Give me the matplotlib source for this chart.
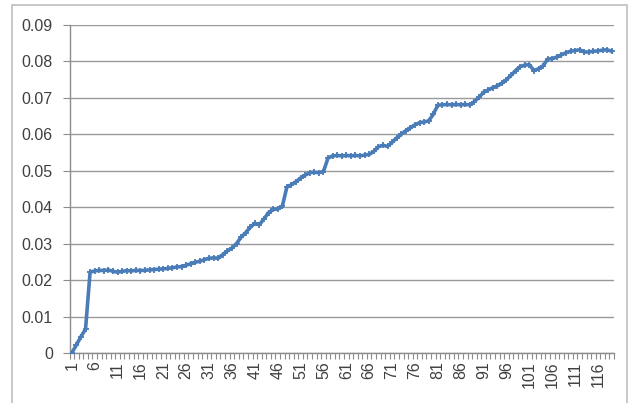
import matplotlib.pyplot as plt
import matplotlib.patches as patches
import numpy as np

plt.rcParams['font.family'] = ['Liberation Sans', 'DejaVu Sans']

# series values, one per sample (1..119)
values = [
    0.0000, 0.0022, 0.0045, 0.0065, 0.0222, 0.0225, 0.0227, 0.0226, 0.0228, 0.0224,
    0.0222, 0.0224, 0.0226, 0.0225, 0.0227, 0.0226, 0.0227, 0.0228, 0.0229, 0.0230,
    0.0231, 0.0232, 0.0234, 0.0236, 0.0237, 0.0241, 0.0245, 0.0249, 0.0252, 0.0256,
    0.0260, 0.0261, 0.0260, 0.0270, 0.0280, 0.0288, 0.0300, 0.0318, 0.0330, 0.0345,
    0.0356, 0.0352, 0.0368, 0.0385, 0.0394, 0.0395, 0.0402, 0.0455, 0.0462, 0.0470,
    0.0480, 0.0488, 0.0495, 0.0496, 0.0495, 0.0498, 0.0535, 0.0541, 0.0542, 0.0541,
    0.0542, 0.0541, 0.0542, 0.0541, 0.0543, 0.0545, 0.0553, 0.0566, 0.0570, 0.0567,
    0.0578, 0.0590, 0.0600, 0.0610, 0.0618, 0.0626, 0.0632, 0.0634, 0.0637, 0.0655,
    0.0680, 0.0681, 0.0682, 0.0681, 0.0682, 0.0681, 0.0682, 0.0681, 0.0690, 0.0702,
    0.0715, 0.0722, 0.0728, 0.0733, 0.0740, 0.0750, 0.0762, 0.0775, 0.0786, 0.0790,
    0.0791, 0.0775, 0.0780, 0.0788, 0.0806, 0.0808, 0.0812, 0.0818, 0.0824, 0.0828,
    0.0830, 0.0832, 0.0826, 0.0826, 0.0828, 0.0829, 0.0831, 0.0832, 0.0828,
]
samples = np.arange(1, len(values) + 1)
x_tick_labels = [str(s) for s in samples[::5]]
y_ticks = [0, 0.01, 0.02, 0.03, 0.04, 0.05, 0.06, 0.07, 0.08, 0.09]
y_tick_labels = ['0', '0.01', '0.02', '0.03', '0.04', '0.05', '0.06', '0.07', '0.08', '0.09']

W, H = 631, 403
fig = plt.figure(figsize=(W / 100, H / 100), dpi=100)
fig.patch.set_facecolor('white')

# chart area border
fig.patches.append(patches.Rectangle((12 / W, -0.05), 615 / W, 1.05 - 5 / H,
                                     transform=fig.transFigure, fill=False,
                                     edgecolor='#bfbfbf', linewidth=1.2))

ax = fig.add_axes([69.5 / W, 1 - 353 / H, 544.5 / W, 328 / H])
line_blue = '#4a7cb8'
ax.plot(samples, values, color=line_blue, linewidth=2.6, marker='+',
        markersize=4.5, markeredgewidth=1.3, zorder=3)

ax.set_xlim(0.5, len(values) + 0.5)
ax.set_ylim(0, 0.09)
ax.set_yticks(y_ticks)
ax.set_yticklabels(y_tick_labels)
ax.set_xticks(samples[::5])
ax.set_xticklabels(x_tick_labels, rotation=90)
ax.set_xticks(np.arange(0.5, len(values) + 1, 1), minor=True)

ax.grid(axis='y', color='#999999', linewidth=1.0)
ax.set_axisbelow(True)
for side in ['top', 'right']:
    ax.spines[side].set_visible(False)
for side in ['left', 'bottom']:
    ax.spines[side].set_color('#8c8c8c')
    ax.spines[side].set_linewidth(1.0)

ax.tick_params(axis='y', length=5, color='#8c8c8c', labelsize=11.5,
               labelcolor='#404040', pad=7)
ax.tick_params(axis='x', which='major', length=0, labelsize=11.5,
               labelcolor='#404040', pad=6)
ax.tick_params(axis='x', which='minor', length=4, color='#8c8c8c', width=0.8)

fig.savefig('out.png', dpi=100)
